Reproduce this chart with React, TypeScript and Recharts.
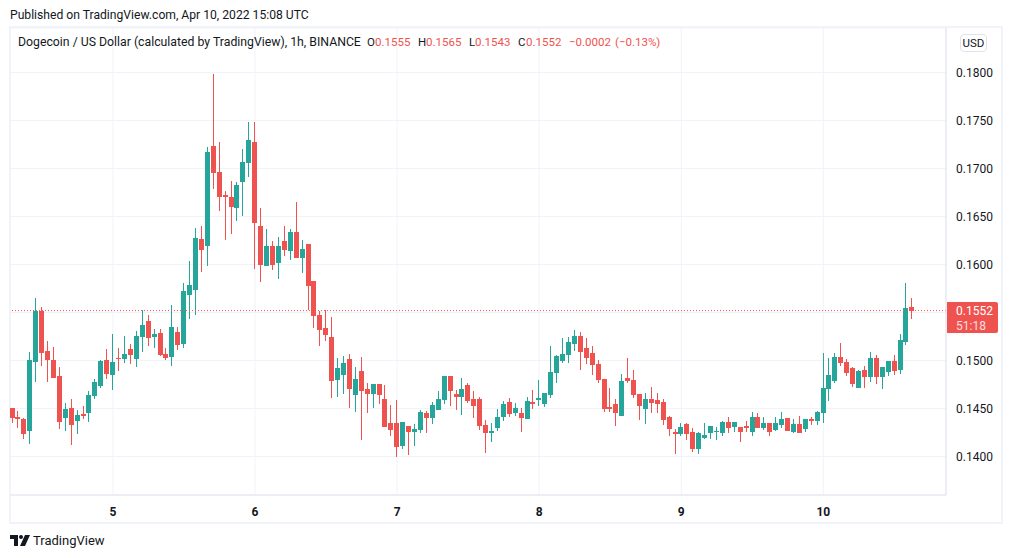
import React from "react";
import { ComposedChart, Bar, XAxis, YAxis, CartesianGrid, ReferenceLine } from "recharts";

// Prices are written in units of 0.0001 USD
const opens = [
  1450.6,1441.2,1439.1,1426.6,1498.5,1552,1510,1500.6,1483.9,1440.2,
  1450.6,1437,1444.3,1445.4,1463.1,1473.5,1500.6,1484.9,1502.7,1501.6,
  1512,1501.6,1524.5,1541.2,1524.5,1528.7,1506.8,1503.7,1529.7,1517.2,
  1568.3,1573.4,1626.6,1619.3,1723.4,1696.3,1672.4,1670.3,1658.8,1685.9,
  1705.7,1727.6,1640.1,1598.4,1619.3,1601.6,1624.5,1614,1633.8,1606.8,
  1621.3,1582.8,1547.4,1533.9,1524.5,1479.7,1484.9,1501.6,1464.1,1489.1,
  1470.3,1465.1,1475.6,1459.9,1434.9,1434.9,1411,1431.8,1425.6,1427.6,
  1445.4,1440.2,1448.5,1458.9,1483.9,1465.1,1462,1474.5,1459.9,1459.9,
  1432.8,1424.5,1429.7,1441.2,1456.8,1445.3,1445.3,1439.1,1456.8,1458.9,
  1454.7,1464.1,1487,1499.5,1505.7,1517.2,1525.5,1513,1507.8,1496.4,
  1480.7,1451.6,1454.7,1442.2,1481.8,1479.7,1465.1,1449.5,1459.9,1458.9,
  1456.8,1441.2,1425.5,1423.5,1433.9,1425.6,1407.9,1419.3,1424.5,1425.6,
  1424.5,1436,1430.8,1430.8,1431.8,1425.6,1441.2,1429.7,1434.9,1427.6,
  1432.8,1440.1,1425.6,1433.9,1428.7,1439.1,1437,1445.3,1470.3,1478.7,
  1503.7,1498.5,1492.2,1471.4,1490.1,1482.9,1502.6,1482.9,1488,1499.5,
  1490.1,1519.3,1555.7,
];
const highs = [
  1450.6,1447.4,1440.2,1508.9,1565.2,1555.8,1520.4,1514.1,1493.3,1455.8,
  1459.9,1448.5,1452.7,1468.3,1480.8,1500.6,1512,1527.7,1513.1,1525.6,
  1517.2,1530.8,1552.7,1547.4,1532.9,1532.9,1513.1,1557.9,1534.9,1580.8,
  1603.6,1638,1640.1,1722.4,1798.4,1727.6,1676.6,1687,1685.9,1720.3,
  1748.4,1748.4,1658.8,1637,1624.5,1628.6,1640.1,1637,1665.1,1625.5,
  1621.3,1582.8,1551.6,1552.6,1545.3,1502.6,1504.7,1506.8,1493.3,1503.7,
  1476.6,1475.6,1475.6,1474.5,1453.7,1458.9,1436,1431.8,1433.9,1448.5,
  1447.4,1456.8,1468.3,1483.9,1483.9,1469.3,1481.8,1476.6,1468.3,1462,
  1438,1434.9,1449.5,1457.8,1461,1455.7,1450.5,1462,1469.3,1479.7,
  1466.2,1515.1,1505.7,1523.5,1524.5,1531.8,1529.7,1523.5,1515.1,1500.5,
  1480.7,1471.4,1459.9,1485.9,1502.6,1490.1,1465.1,1466.2,1472.4,1466.2,
  1459.9,1442.2,1428.7,1434.9,1434.9,1429.7,1425.6,1434.9,1431.8,1430.8,
  1437,1441.2,1436,1430.8,1437,1446.4,1445.3,1441.2,1434.9,1441.2,
  1446.4,1440.1,1439.1,1442.2,1439.1,1441.2,1447.4,1507.8,1502.6,1507.8,
  1518.3,1501.6,1493.3,1490.1,1494.3,1508.9,1505.8,1493.3,1499.5,1505.8,
  1527.6,1580.8,1565.1,
];
const lows = [
  1435,1429.7,1418.3,1413.1,1477.7,1494.3,1477.7,1481.8,1428.7,1426.6,
  1412,1423.5,1439.1,1436,1460,1471.4,1480.8,1469.3,1489.1,1497.4,
  1496.4,1493.3,1508.9,1515.2,1513.1,1504.7,1500.6,1494.3,1511,1513.1,
  1543.3,1547.4,1592.2,1598.4,1678.6,1655.7,1625.5,1631.8,1645.3,1650.5,
  1691.1,1595.3,1581.8,1598.4,1594.3,1584.9,1608.8,1604.7,1606.8,1591.1,
  1552.6,1533.9,1515.1,1520.3,1461,1462,1465.1,1450.6,1446.4,1417.2,
  1445.4,1450.6,1454.7,1430.8,1421.4,1399.5,1407.9,1401.6,1411,1424.5,
  1424.5,1433.9,1448.5,1454.7,1452.6,1448.5,1443.3,1455.8,1440.2,1427.6,
  1403.7,1415.1,1426.6,1437,1441.2,1442.2,1425.5,1439.1,1449.5,1452.6,
  1451.6,1461,1476.6,1497.4,1497.4,1509.9,1490.1,1496.4,1484.9,1476.6,
  1446.4,1446.4,1431.8,1442.2,1476.6,1461,1438,1433.9,1445.3,1445.3,
  1432.8,1421.4,1402.6,1421.4,1417.2,1404.7,1402.6,1418.3,1418.3,1417.2,
  1421.4,1424.5,1425.6,1415.1,1425.6,1421.4,1429.7,1427.6,1421.4,1426.6,
  1429.7,1426.6,1424.5,1424.5,1425.6,1432.8,1432.8,1434.9,1457.8,1476.6,
  1494.3,1483.9,1472.4,1471.4,1471.4,1477.6,1475.6,1470.3,1483.9,1484.9,
  1486,1516.2,1543.3,
];
const closes = [
  1440.5,1439.1,1423.5,1500.6,1551.6,1507.9,1500.6,1481.8,1436,1449.5,
  1432.9,1443.3,1442.2,1464.1,1477.7,1499.5,1486,1498.5,1501.6,1506.8,
  1505.8,1525.6,1537,1523.5,1527.6,1505.8,1502.7,1534.9,1516.2,1572.4,
  1578.7,1627.6,1615.1,1717.2,1695.3,1670.3,1670.3,1659.9,1682.8,1706.8,
  1729.7,1643.2,1599.5,1619.3,1599.5,1619.3,1615.1,1633.8,1606.8,1616.1,
  1577.6,1546.4,1531.8,1526.6,1478.7,1492.2,1497.4,1470.3,1480.8,1468.3,
  1465.1,1475.6,1464.1,1430.8,1427.6,1409.9,1436,1425.6,1428.7,1446.4,
  1440.2,1453.7,1459.9,1483.9,1468.3,1462,1470.3,1457.8,1452.6,1431.8,
  1424.5,1426.6,1441.2,1454.7,1444.3,1450.5,1440.1,1457.8,1454.7,1461,
  1466.2,1488,1504.7,1506.8,1519.3,1525.5,1508.9,1502.6,1495.3,1479.7,
  1449.5,1449.5,1445.3,1478.7,1478.7,1464.1,1452.6,1459.9,1455.7,1454.7,
  1438,1428.7,1423.5,1430.8,1423.5,1407.9,1424.5,1422.4,1431.8,1426.6,
  1436,1429.7,1436,1425.6,1429.7,1441.2,1429.7,1434.9,1425.6,1434.9,
  1439.1,1426.6,1433.9,1424.5,1439.1,1437,1446.4,1471.4,1484.9,1503.7,
  1497.4,1487,1475.6,1489.1,1482.9,1502.6,1482.9,1493.3,1499.5,1489.1,
  1521.4,1554.7,1551.6,
];

const UNIT = 0.0001;
const dayTicks = [17, 41, 65, 89, 113, 137];
const dayLabels = ["5", "6", "7", "8", "9", "10"];
const priceTicks = [0.14, 0.145, 0.15, 0.155, 0.16, 0.165, 0.17, 0.175, 0.18];
const lastPrice = 0.1552;

const UP = "#26a69a";
const DOWN = "#ef5350";
const INK = "#131722";
const FONT = "Roboto, 'Noto Sans', sans-serif";

const candles = opens.map((o, i) => ({
  i,
  open: o * UNIT,
  high: highs[i] * UNIT,
  low: lows[i] * UNIT,
  close: closes[i] * UNIT,
}));

function Candle(props: any) {
  const { x, y, width, height, payload } = props;
  const k = height / (payload.high - payload.low);
  const cx = Math.round(x + width / 2 - 0.5) + 0.5;
  const color = payload.close >= payload.open ? UP : DOWN;
  const top = y + (payload.high - Math.max(payload.open, payload.close)) * k;
  const bot = y + (payload.high - Math.min(payload.open, payload.close)) * k;
  return (
    <g>
      <line x1={cx} x2={cx} y1={y} y2={y + height} stroke={color} strokeWidth={1} shapeRendering="crispEdges" />
      <rect x={cx - 2.5} y={top} width={5} height={Math.max(bot - top, 1)} fill={color} shapeRendering="crispEdges" />
    </g>
  );
}

const abs = (left: number, top: number, extra: React.CSSProperties = {}): React.CSSProperties => ({
  position: "absolute",
  left,
  top,
  whiteSpace: "nowrap",
  fontFamily: FONT,
  fontSize: 13,
  lineHeight: "16px",
  color: INK,
  ...extra,
});

const legendValues: [number, string, boolean][] = [
  [367, "O", false],
  [375, "0.1555", true],
  [418, "H", false],
  [426, "0.1565", true],
  [469, "L", false],
  [475, "0.1543", true],
  [518, "C", false],
  [526, "0.1552", true],
  [569, "−0.0002", true],
  [615, "(−0.13%)", true],
];

export default function App() {
  return (
    <div style={{ position: "absolute", left: 0, top: 0, width: 1012, height: 558, background: "#fff", overflow: "hidden" }}>
      <div style={{ position: "absolute", left: 8.5, top: 26, width: 994, height: 497.5, boxSizing: "border-box", border: "2px solid #f0f3fa" }} />
      <div style={{ position: "absolute", left: 0, top: 0 }}>
        <ComposedChart
          width={1012}
          height={558}
          data={candles}
          margin={{ top: 28, left: 10, right: 11, bottom: 36 }}
        >
          <CartesianGrid stroke="#f0f3fa" />
          <XAxis
            dataKey="i"
            type="number"
            scale="linear"
            domain={[-0.39, 157.72]}
            allowDataOverflow
            ticks={dayTicks}
            interval={0}
            tickFormatter={(v: number) => dayLabels[dayTicks.indexOf(v)]}
            height={27}
            tickLine={false}
            tickMargin={6}
            axisLine={{ stroke: "#e0e3eb" }}
            tick={{ fontFamily: FONT, fontSize: 12, fontWeight: 700, fill: INK }}
          />
          <YAxis
            orientation="right"
            type="number"
            domain={[0.13599, 0.184635]}
            allowDataOverflow
            ticks={priceTicks}
            interval={0}
            width={55}
            tickLine={false}
            tickMargin={4}
            axisLine={{ stroke: "#e0e3eb" }}
            tickFormatter={(v: number) => (v === 0.155 ? "" : v.toFixed(4))}
            tick={{ fontFamily: FONT, fontSize: 12, fill: INK, textAnchor: "start" }}
          />
          <ReferenceLine y={lastPrice} stroke={DOWN} strokeDasharray="1 2" />
          <Bar
            dataKey={(d: any) => [d.low, d.high]}
            barSize={6}
            shape={Candle}
            isAnimationActive={false}
          />
        </ComposedChart>
      </div>

      <div style={abs(10, 7, { fontSize: 12.15 })}>Published on TradingView.com, Apr 10, 2022 15:08 UTC</div>
      <div style={abs(18, 34, { fontSize: 12.28 })}>Dogecoin / US Dollar (calculated by TradingView), 1h, BINANCE</div>
      {legendValues.map(([x, s, red]) => (
        <div key={x} style={abs(x, 34, { fontSize: 11.5, color: red ? DOWN : INK })}>{s}</div>
      ))}

      <div style={abs(960, 34, { width: 27, height: 18, boxSizing: "border-box", border: "1px solid #e0e3eb", borderRadius: 4, fontSize: 11.5, lineHeight: "16px", textAlign: "center" })}>USD</div>

      <div style={{ ...abs(947, 302), width: 51, height: 31, background: DOWN, color: "#fff", fontSize: 12, lineHeight: "15px", padding: "2px 0 0 9px", boxSizing: "border-box", borderRadius: "0 2px 2px 0" }}>
        <div>0.1552</div>
        <div style={{ opacity: 0.8 }}>51:18</div>
      </div>

      <svg style={{ position: "absolute", left: 10, top: 535 }} width={20} height={13} viewBox="0 0 20 13">
        <path d="M0 0H8V11H4V4H0Z" fill={INK} />
        <circle cx={11} cy={2} r={2} fill={INK} />
        <path d="M15 0H20L15 11H10Z" fill={INK} />
      </svg>
      <div style={abs(33, 533, { fontSize: 13 })}>TradingView</div>
    </div>
  );
}
